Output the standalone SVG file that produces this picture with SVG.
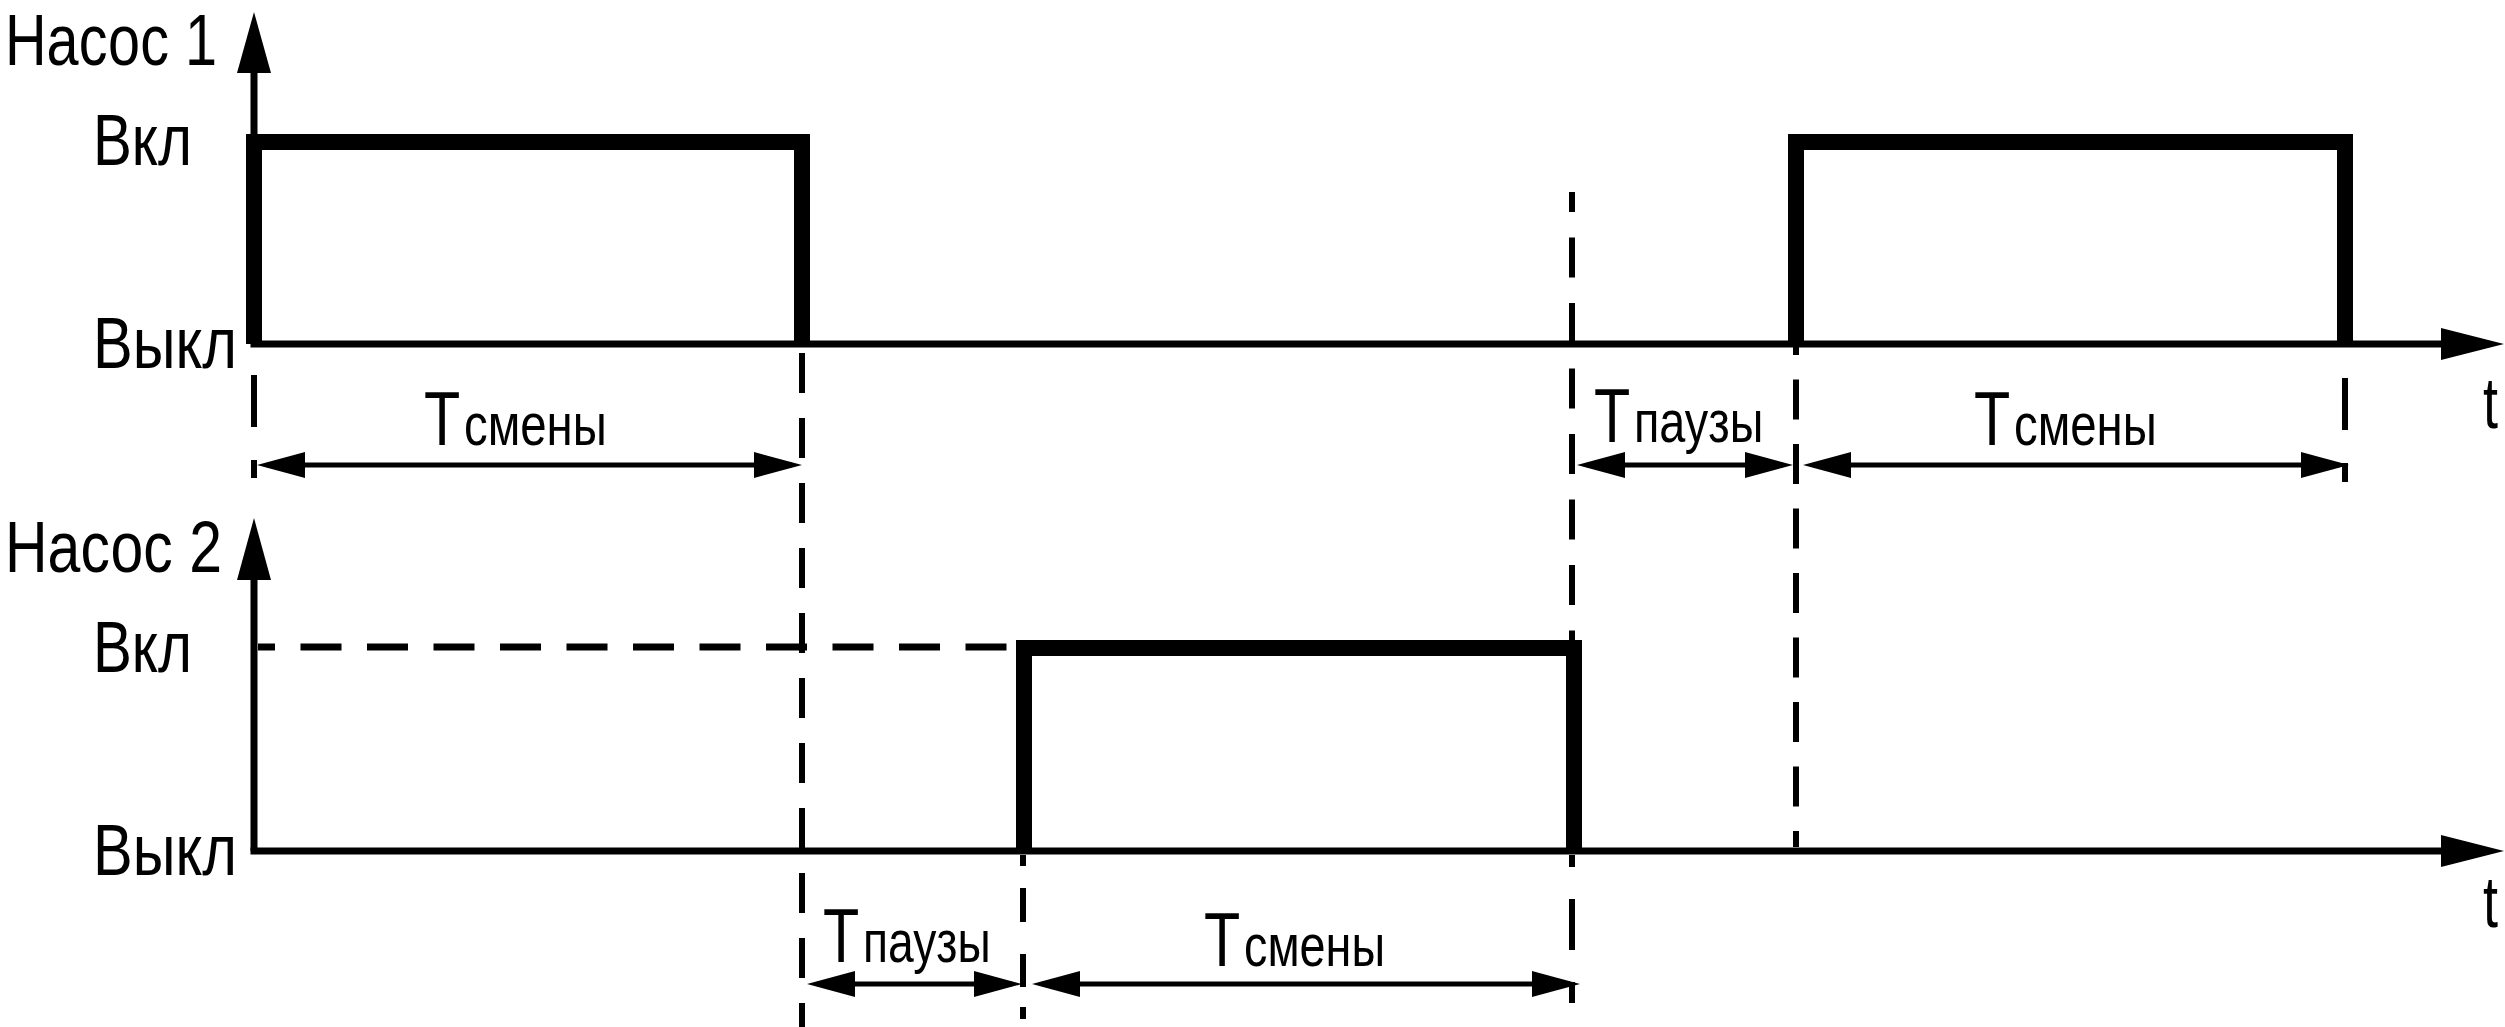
<svg xmlns="http://www.w3.org/2000/svg" width="2505" height="1027" viewBox="0 0 2505 1027">
<defs>
<style>
.ax{stroke:#000;stroke-width:7;fill:none}
.head{fill:#000;stroke:none}
.pulse{stroke:#000;stroke-width:16;fill:none;stroke-linejoin:miter;stroke-linecap:butt}
.dash{stroke:#000;stroke-width:6;fill:none}
.dim{stroke:#000;stroke-width:5;fill:none;marker-start:url(#dh);marker-end:url(#dh)}
.lbl{font-family:"Liberation Sans",Arial,sans-serif;fill:#000}
.big{font-size:73px}
.tc{font-size:76px}
.sub{font-size:60px}
</style>
<marker id="dh" markerUnits="userSpaceOnUse" markerWidth="48" markerHeight="26" viewBox="0 0 48 26" refX="38" refY="13" orient="auto-start-reverse"><path d="M0,0 L48,13 L0,26 z" fill="#000"/></marker>
</defs>
<rect width="2505" height="1027" fill="#fff"/>

<g id="guides">
<path class="dash" d="M254 375V427M254 460V478"/>
<line class="dash" x1="802" y1="353" x2="802" y2="1027" stroke-dasharray="40 25"/>
<line class="dash" x1="1572" y1="192" x2="1572" y2="847" stroke-dasharray="40 25.5" stroke-dashoffset="20"/>
<path class="dash" d="M1572 855V867M1572 899V950M1572 982V1003"/>
<line class="dash" x1="1796" y1="315" x2="1796" y2="847" stroke-dasharray="40 24.5"/>
<path class="dash" d="M1023 855V866M1023 888V922M1023 954V987M1023 1007V1019"/>
<path class="dash" d="M2345 378V430M2345 463V482"/>
<line class="dash" x1="258" y1="647" x2="1016" y2="647" stroke-dasharray="41 25.5" stroke-dashoffset="24" style="stroke-width:7"/>
</g>

<g id="pump1-axes">
<line class="ax" x1="254" y1="70" x2="254" y2="344"/>
<polygon class="head" points="254,12 237,73 271,73"/>
<line class="ax" x1="250.5" y1="344" x2="2444" y2="344"/>
<polygon class="head" points="2441,328 2504,344 2441,360"/>
</g>

<g id="pump2-axes">
<line class="ax" x1="254" y1="577" x2="254" y2="851"/>
<polygon class="head" points="254,518 237,580 271,580"/>
<line class="ax" x1="250.5" y1="851" x2="2444" y2="851"/>
<polygon class="head" points="2441,835 2504,851 2441,867"/>
</g>

<g id="pump1-pulses">
<path class="pulse" d="M254 344V142H802V344"/>
<path class="pulse" d="M1796 344V142H2345V344"/>
</g>

<g id="pump2-pulse">
<path class="pulse" d="M1024 851V648H1574V851"/>
</g>

<g id="connectors">
<line class="dim" x1="267" y1="465" x2="792" y2="465"/>
<line class="dim" x1="1587" y1="465" x2="1783" y2="465"/>
<line class="dim" x1="1813" y1="465" x2="2339" y2="465"/>
<line class="dim" x1="817" y1="984" x2="1012" y2="984"/>
<line class="dim" x1="1042" y1="984" x2="1570" y2="984"/>
</g>

<g id="labels" class="lbl">
<text class="big" x="5" y="65" textLength="212" lengthAdjust="spacingAndGlyphs">Насос 1</text>
<text class="big" x="93" y="165" textLength="99" lengthAdjust="spacingAndGlyphs">Вкл</text>
<text class="big" x="93" y="368" textLength="144" lengthAdjust="spacingAndGlyphs">Выкл</text>
<text class="big" x="5" y="572" textLength="217" lengthAdjust="spacingAndGlyphs">Насос 2</text>
<text class="big" x="93" y="672" textLength="99" lengthAdjust="spacingAndGlyphs">Вкл</text>
<text class="big" x="93" y="875" textLength="144" lengthAdjust="spacingAndGlyphs">Выкл</text>
<text x="2483" y="428" font-size="72" textLength="15" lengthAdjust="spacingAndGlyphs">t</text>
<text x="2483" y="927" font-size="72" textLength="15" lengthAdjust="spacingAndGlyphs">t</text>

<text class="tc" transform="translate(424 445) scale(0.78 1)">T</text>
<text class="sub" transform="translate(464 445) scale(0.79 1)">смены</text>

<text class="tc" transform="translate(1594 442) scale(0.78 1)">T</text>
<text class="sub" transform="translate(1634 442) scale(0.78 1)">паузы</text>

<text class="tc" transform="translate(1974 445) scale(0.78 1)">T</text>
<text class="sub" transform="translate(2014 445) scale(0.79 1)">смены</text>

<text class="tc" transform="translate(823 962) scale(0.78 1)">T</text>
<text class="sub" transform="translate(863 962) scale(0.77 1)">паузы</text>

<text class="tc" transform="translate(1204 966) scale(0.78 1)">T</text>
<text class="sub" transform="translate(1244 966) scale(0.78 1)">смены</text>
</g>
</svg>
